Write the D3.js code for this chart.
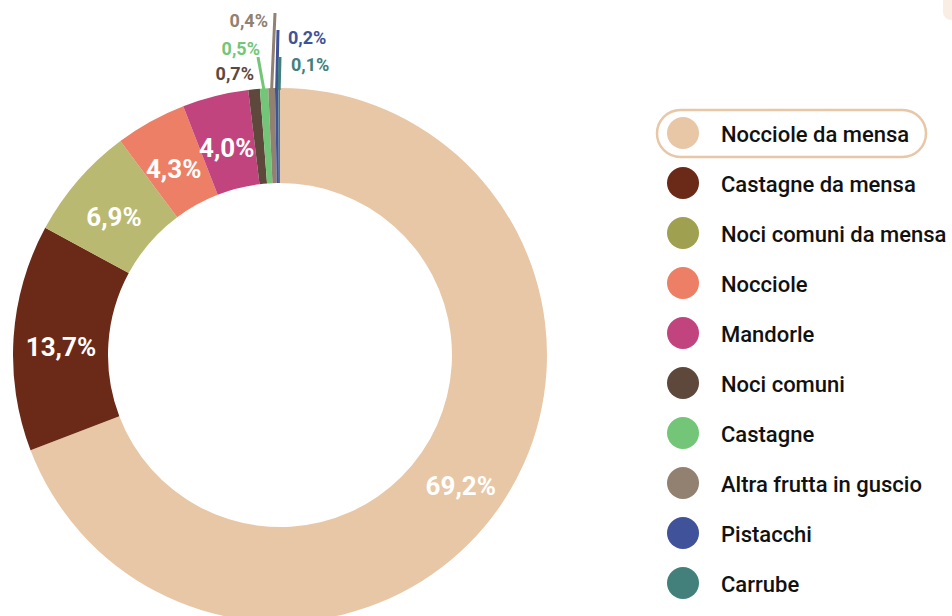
<!DOCTYPE html>
<html><head><meta charset="utf-8">
<script src="https://cdn.jsdelivr.net/npm/d3@7/dist/d3.min.js"></script>
<style>
html,body{margin:0;padding:0;background:#fff;}
svg{display:block;font-family:Roboto, "Noto Sans", sans-serif;}
</style></head>
<body>
<svg id="chart" width="952" height="616"></svg>
<script>
const categories = ["Nocciole da mensa","Castagne da mensa","Noci comuni da mensa","Nocciole","Mandorle","Noci comuni","Castagne","Altra frutta in guscio","Pistacchi","Carrube"];
const values = [69.2, 13.7, 6.9, 4.3, 4.0, 0.7, 0.5, 0.4, 0.2, 0.1];
const legendColors = ["#e8c7a6","#6b2917","#9fa050","#ec7f66","#c2447f","#5e483c","#73c677","#928171","#405299","#43807b"];
const sliceColors  = ["#e8c7a6","#6b2917","#b9b972","#ec7f66","#c2447f","#5e483c","#73c677","#928171","#405299","#43807b"];

const svg = d3.select("#chart");
const cx = 280, cy = 355, rOuter = 267, rInner = 172;
const fmt = v => d3.format(".1f")(v).replace(".", ",") + "%";

// faint decoration top-right
svg.append("rect").attr("x",943).attr("y",-30).attr("width",40).attr("height",50).attr("rx",8).attr("fill","#faede4");

const data = categories.map((c,i)=>({cat:c, value:values[i], i}));
const pie = d3.pie().value(d=>d.value).sort(null).startAngle(0).endAngle(2*Math.PI);
const arcs = pie(data);
const arc = d3.arc().innerRadius(rInner).outerRadius(rOuter);

const g = svg.append("g").attr("transform",`translate(${cx},${cy})`);
g.selectAll("path.slice").data(arcs).enter().append("path")
  .attr("class","slice").attr("d",arc).attr("fill",d=>sliceColors[d.data.i]);

// inside labels for big slices
g.selectAll("text.in").data(arcs.filter(d=>d.data.value>=1)).enter().append("text")
  .attr("class","in")
  .attr("transform",d=>{const c=arc.centroid(d);return `translate(${c[0]},${c[1]+6})`;})
  .attr("text-anchor","middle").attr("dominant-baseline","central")
  .attr("fill","#fff").attr("font-size",26).attr("font-weight",700)
  .text(d=>fmt(d.data.value));

// outside labels for small slices
const outside = {
  5: {lineTo:null, lx:-26, ly:-282, anchor:"end"},
  6: {lineTo:[-22,-298], lx:-20, ly:-307, anchor:"end"},
  7: {lineTo:[-5,-342], lx:-12, ly:-335, anchor:"end"},
  8: {lineTo:[-2,-325], lx:8, ly:-318, anchor:"start"},
  9: {lineTo:[0,-298], lx:11, ly:-291, anchor:"start"}
};
arcs.forEach(d=>{
  const o = outside[d.data.i];
  if(!o) return;
  const a = (d.startAngle+d.endAngle)/2;
  const p0 = [rOuter*Math.sin(a), -rOuter*Math.cos(a)];
  if(o.lineTo){
    g.append("line").attr("x1",p0[0]).attr("y1",p0[1]+2).attr("x2",o.lineTo[0]).attr("y2",o.lineTo[1])
      .attr("stroke",sliceColors[d.data.i]).attr("stroke-width",3);
  }
  g.append("text").attr("x",o.lx).attr("y",o.ly).attr("text-anchor",o.anchor)
    .attr("dominant-baseline","central").attr("font-size",18).attr("font-weight",700)
    .attr("fill",sliceColors[d.data.i]).text(fmt(d.data.value));
});

// legend
const lg = svg.append("g");
const y0 = 133, step = 50;
lg.append("rect").attr("x",657).attr("y",110).attr("width",269).attr("height",47).attr("rx",23.5)
  .attr("fill","#fff").attr("stroke","#e8c7a6").attr("stroke-width",2.5);
const items = lg.selectAll("g.item").data(data).enter().append("g")
  .attr("transform",(d,i)=>`translate(0,${y0+i*step})`);
items.append("circle").attr("cx",683).attr("cy",0).attr("r",16).attr("fill",d=>legendColors[d.i]);
items.append("text").attr("x",721).attr("y",1).attr("dominant-baseline","central")
  .attr("font-size",22).attr("font-weight",500).attr("fill","#111").text(d=>d.cat);
</script>
</body></html>
